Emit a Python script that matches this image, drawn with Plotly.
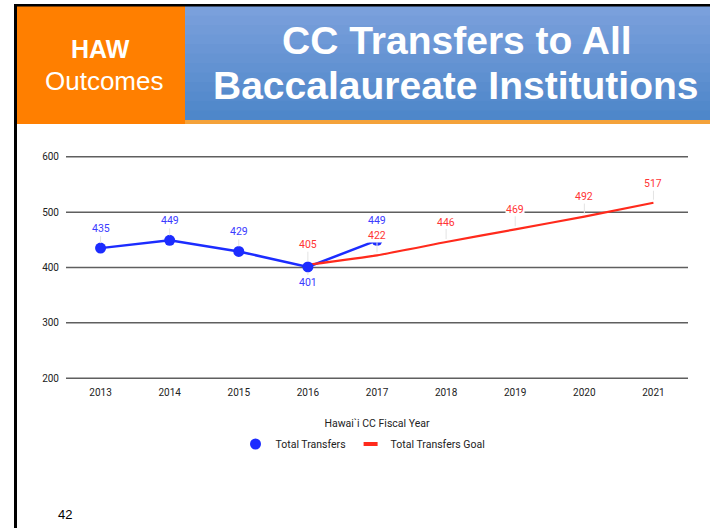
import plotly.graph_objects as go

# ---------------- data ----------------
years = ["2013", "2014", "2015", "2016", "2017", "2018", "2019", "2020", "2021"]
total_transfers = [435, 449, 429, 401, 449, None, None, None, None]
transfers_goal = [None, None, None, 405, 422, 446, 469, 492, 517]
y_ticks = [200, 300, 400, 500, 600]

# label offsets (pixels, negative = above)
blue_label_offsets = [-20, -20, -20, 16, -20, None, None, None, None]
red_label_offsets = [None, None, None, -20, -20, -20, -20, -20, -19]

W, H = 710, 528
ML, MR, MT, MB = 66, 22, 154, 147
PW, PH = W - ML - MR, H - MT - MB

BLUE = "#1c2cff"
BLUE_LBL = "#3a3aff"
RED = "#ff2a1c"
RED_LBL = "#ff3535"


def px(x):
    return (x - ML) / PW


def py(y):
    return (H - MB - y) / PH


fig = go.Figure()

# blue line (no legend)
fig.add_trace(go.Scatter(
    x=years, y=total_transfers, mode="lines",
    line=dict(color=BLUE, width=2.5), showlegend=False, hoverinfo="skip",
))
# red goal line
fig.add_trace(go.Scatter(
    x=years, y=transfers_goal, mode="lines",
    line=dict(color=RED, width=2.2, shape="spline", smoothing=0.5),
    showlegend=False,
))
# blue markers (legend)
fig.add_trace(go.Scatter(
    x=years, y=total_transfers, mode="markers", name="Total Transfers",
    marker=dict(color=BLUE, size=11),
))
# legend entry for goal
fig.add_trace(go.Scatter(
    x=[None], y=[None], mode="markers", name="Total Transfers Goal",
    marker=dict(symbol="line-ew", size=10, line=dict(color=RED, width=4)),
))

annotations = []
for i, (v, off) in enumerate(zip(total_transfers, blue_label_offsets)):
    if v is None:
        continue
    annotations.append(dict(
        x=i, y=v, xref="x", yref="y", text=str(v), showarrow=True,
        arrowhead=0, arrowwidth=1, arrowcolor="#e3e3e3", ax=0, ay=off,
        standoff=5, font=dict(family="Roboto", size=10.5, color=BLUE_LBL),
    ))
for i, (v, off) in enumerate(zip(transfers_goal, red_label_offsets)):
    if v is None:
        continue
    annotations.append(dict(
        x=i, y=v, xref="x", yref="y", text=str(v), showarrow=True,
        arrowhead=0, arrowwidth=1, arrowcolor="#e3e3e3", ax=0, ay=off,
        standoff=3, bgcolor="white", borderpad=0,
        font=dict(family="Roboto", size=10.5, color=RED_LBL),
    ))

# ---------------- slide header ----------------
shapes = []
top_c = (122, 160, 220)
bot_c = (78, 135, 202)
n = 12
y0, y1 = 6, 120
for k in range(n):
    t = k / (n - 1)
    c = tuple(int(top_c[j] + (bot_c[j] - top_c[j]) * t) for j in range(3))
    ya = y0 + (y1 - y0) * k / n
    yb = y0 + (y1 - y0) * (k + 1) / n + 0.6
    shapes.append(dict(type="rect", xref="paper", yref="paper",
                       x0=px(185), x1=px(711), y0=py(yb), y1=py(ya),
                       fillcolor="rgb(%d,%d,%d)" % c, line=dict(width=0), layer="above"))
shapes.append(dict(type="rect", xref="paper", yref="paper",
                   x0=px(185), x1=px(711), y0=py(124), y1=py(120),
                   fillcolor="#f4a23a", line=dict(width=0), layer="above"))
shapes.append(dict(type="rect", xref="paper", yref="paper",
                   x0=px(16), x1=px(185), y0=py(124), y1=py(6),
                   fillcolor="#ff7f00", line=dict(width=0), layer="above"))
shapes.append(dict(type="rect", xref="paper", yref="paper",
                   x0=px(14), x1=px(17), y0=py(529), y1=py(4),
                   fillcolor="#000000", line=dict(width=0), layer="above"))
shapes.append(dict(type="rect", xref="paper", yref="paper",
                   x0=px(14), x1=px(711), y0=py(6.5), y1=py(4),
                   fillcolor="#000000", line=dict(width=0), layer="above"))
# horizontal grid lines at the tick values
for v in y_ticks:
    shapes.append(dict(type="line", xref="paper", yref="y", x0=0, x1=1, y0=v, y1=v,
                       line=dict(color="#5f5f5f", width=1.5), layer="below"))

hdr = [
    ("<b>HAW</b>", 100, 49, 25),
    ("Outcomes", 104, 81, 26),
    ("<b>CC Transfers to All</b>", 457, 40, 39),
    ("<b>Baccalaureate Institutions</b>", 456, 86, 39),
]
for txt, x, y, s in hdr:
    annotations.append(dict(
        x=px(x), y=py(y), xref="paper", yref="paper", text=txt, showarrow=False,
        xanchor="center", yanchor="middle",
        font=dict(family="Liberation Sans", size=s, color="white"),
    ))
annotations.append(dict(
    x=px(65), y=py(514), xref="paper", yref="paper", text="42", showarrow=False,
    xanchor="center", yanchor="middle",
    font=dict(family="Liberation Sans", size=13, color="#000000"),
))

fig.update_layout(
    width=W, height=H,
    margin=dict(l=ML, r=MR, t=MT, b=MB, pad=0),
    paper_bgcolor="white", plot_bgcolor="white",
    font=dict(family="Roboto", size=10, color="#222222"),
    showlegend=True,
    legend=dict(orientation="h", x=px(363), y=py(444), xanchor="center", yanchor="middle",
                font=dict(family="Roboto", size=10.5, color="#222222"),
                itemsizing="trace", itemwidth=30, bgcolor="rgba(0,0,0,0)"),
    xaxis=dict(type="category", categoryorder="array", categoryarray=years,
               range=[-0.5, len(years) - 0.5], showgrid=False, zeroline=False,
               showline=False, ticks="outside", ticklen=2, tickcolor="rgba(0,0,0,0)",
               tickfont=dict(family="Roboto", size=10, color="#222222"),
               title=dict(text="Hawai`i CC Fiscal Year", standoff=22,
                          font=dict(family="Roboto", size=10.5, color="#222222"))),
    yaxis=dict(range=[195, 605], tickvals=y_ticks, showgrid=False,
               zeroline=False, showline=False,
               ticks="outside", ticklen=4, tickcolor="rgba(0,0,0,0)",
               tickfont=dict(family="Roboto", size=10, color="#222222")),
    shapes=shapes,
    annotations=annotations,
)

fig.write_html("out.html", config={"displayModeBar": False},
               post_script="document.body.style.margin='0';document.body.style.overflow='hidden';")
